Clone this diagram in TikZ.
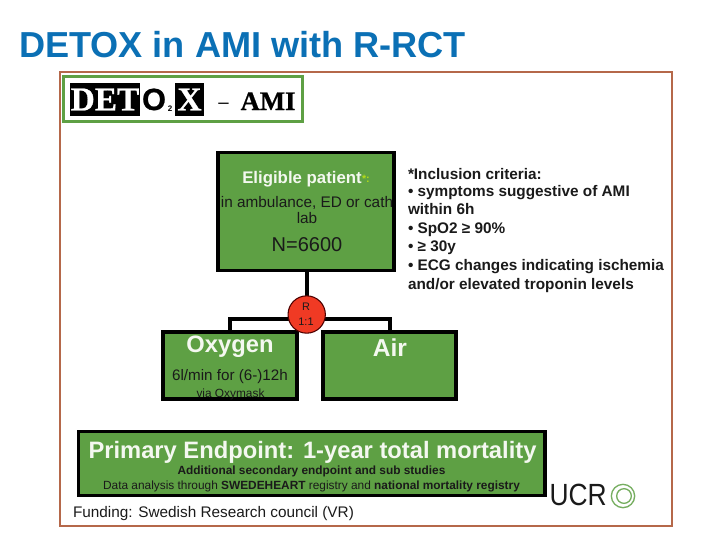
\documentclass[tikz,border=0pt]{standalone}
\usepackage{fontspec}
\usetikzlibrary{backgrounds}
\setmainfont{Liberation Sans}
\newfontfamily\slab[FakeBold=0.7]{Liberation Serif Bold}
\newfontfamily\heavy[FakeBold=0.8]{Liberation Sans Bold}
\definecolor{gr}{HTML}{5EA044}
\definecolor{ttl}{HTML}{0B70B5}
\definecolor{frameC}{HTML}{B5684A}
\definecolor{redc}{HTML}{F03A24}
\definecolor{txtw}{HTML}{F4F8F0}
\definecolor{ink}{HTML}{1A1A1A}
\tikzset{
 x=0.75pt,y=-0.75pt,
 gbox/.style={draw=black,fill=gr,line width=2.6pt,inner sep=0pt,outer sep=0pt,anchor=north west},
 lbl/.style={inner sep=0pt,outer sep=0pt,anchor=base},
 lbw/.style={inner sep=0pt,outer sep=0pt,anchor=base west},
 wire/.style={draw=black,line width=3pt,line join=miter},
 blackcell/.style={fill=black,anchor=north west,inner sep=0pt,outer sep=0pt,text=white,minimum height=24.75pt},
 crit/.style={lbw,text=ink,font=\fontsize{11.5}{11.5}\selectfont\bfseries},
 ringc/.style={circle,draw=gr!85!white,line width=1pt,inner sep=0pt},
}
\newcommand{\fs}[1]{\fontsize{#1}{#1}\selectfont}
\begin{document}
\begin{tikzpicture}
\useasboundingbox (0,0) rectangle (720,540);
\node[lbw,text=ttl] (title) at (19,57) {\fs{27.1}\bfseries DETOX in AMI with R-RCT};
\node[draw=frameC,line width=0.9pt,minimum width=459pt,minimum height=340.5pt,anchor=north west,inner sep=0pt,outer sep=0pt] (frame) at (60,72) {};
% logo
\node[draw=gr,line width=2.3pt,fill=white,minimum width=179pt,minimum height=33.75pt,anchor=north west,inner sep=0pt,outer sep=0pt] (logo) at (63.5,76.5) {};
\node[blackcell,minimum width=52.5pt] (det) at (70,83) {\slab\fs{25}DET};
\node[lbl] (oo) at (154,110) {\heavy\fs{23}O};
\node[lbl] (two) at (170,111.7) {\fs{6}\bfseries 2};
\node[blackcell,minimum width=21.75pt] (xx) at (175,83) {\slab\fs{25}X};
\node[lbl] (dash) at (223.5,108) {\fs{14}–};
\node[lbl] (ami) at (268,110) {\slab\fs{20}AMI};
% eligible
\node[gbox,minimum width=132pt,minimum height=88.5pt] (elig) at (218.2,152.4) {};
\node[lbl,text=txtw] (e1) at (302,183) {\fs{12.6}\bfseries Eligible patient};
\node[lbw,text=yellow!70!green] (e1s) at (362,182) {\fs{8}\bfseries *:};
\node[lbl,text=ink] (e2) at (307,207) {\fs{11.5}in ambulance, ED or cath};
\node[lbl,text=ink] (e3) at (307,223) {\fs{11.5}lab};
\node[lbl,text=ink] (e4) at (307,251.5) {\fs{15}N=6600};
% inclusion
\node[crit] (i1) at (408,179) {*Inclusion criteria:};
\node[crit] (i2) at (408,196) {• symptoms suggestive of AMI};
\node[crit] (i3) at (408,214) {within 6h};
\node[crit] (i4) at (408,233) {• SpO2 ≥ 90\%};
\node[crit] (i5) at (408,251) {• ≥ 30y};
\node[crit] (i6) at (408,270) {• ECG changes indicating ischemia};
\node[crit] (i7) at (408,289) {and/or elevated troponin levels};
% arms
\node[gbox,minimum width=100.5pt,minimum height=50.25pt] (ox) at (163,332) {};
\node[gbox,minimum width=99.75pt,minimum height=50.25pt] (air) at (323,332) {};
\coordinate (jl) at (230,319);
\coordinate (jr) at (390,319);
\coordinate (jm) at (306.7,319);
\node[circle,draw=black!70!red,line width=0.8pt,fill=redc,minimum size=28pt,inner sep=0pt] (rnd) at (306.7,314.5) {};
\begin{pgfonlayer}{background}
\fill[white] (0,0) rectangle (720,540);
\draw[wire] (elig.south -| rnd) -- (rnd.center);
\draw[wire] (jm) -- (jl) -- (jl |- ox.north);
\draw[wire] (jm) -- (jr) -- (jr |- air.north);
\end{pgfonlayer}
\node[lbl,text=ink] (r1) at (306,310) {\fs{8.2}R};
\node[lbl,text=ink] (r2) at (306,325) {\fs{8.2}1:1};
\node[lbl,text=txtw] (o1) at (230,352.7) {\fs{17.8}\bfseries Oxygen};
\node[lbl,text=ink] (o2) at (230,380.7) {\fs{11.4}6l/min for (6-)12h};
\node[lbl,text=ink] (o3) at (230.5,397) {\fs{8.9}via Oxymask};
\node[lbl,text=txtw] (a1) at (390,356.5) {\fs{18.4}\bfseries Air};
% endpoint
\node[gbox,minimum width=350pt,minimum height=48pt] (pe) at (78.4,431.7) {};
\node[lbl,text=txtw] (p1) at (312.5,458) {\fs{17.8}\bfseries Primary Endpoint: 1-year total mortality};
\node[lbl,text=ink] (p2) at (311.5,474) {\fs{8.9}\bfseries Additional secondary endpoint and sub studies};
\node[lbl,text=ink] (p3) at (311.5,489) {\fs{8.9}Data analysis through \textbf{SWEDEHEART} registry and \textbf{national mortality registry}};
\node[lbw,text=ink] (fund) at (73,517.5) {\fs{11.5}Funding: Swedish Research council (VR)};
% UCR logo
\node[lbw,text=ink,xscale=0.86] (ucr) at (549.5,505) {\fs{23}UCR};
\node[ringc,minimum size=17.5pt] (ring1) at (623,496) {};
\node[ringc,minimum size=11pt] (ring2) at (624,496) {};
\end{tikzpicture}
\end{document}
